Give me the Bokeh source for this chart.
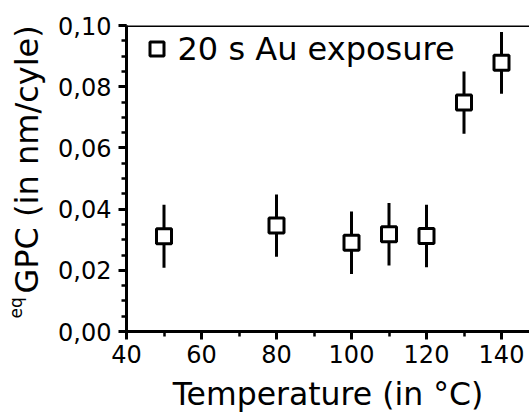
import numpy as np
from bokeh.plotting import figure
from bokeh.layouts import row
from bokeh.models import (ColumnDataSource, SingleIntervalTicker, CustomJSTickFormatter,
                          Span, Label, Legend, LegendItem, Range1d)
from bokeh.embed import file_html
from bokeh.resources import INLINE

# ---- data ----
temperature = [50, 80, 100, 110, 120, 130, 140]
gpc = [0.0311, 0.0346, 0.0290, 0.0318, 0.0312, 0.0748, 0.0878]
gpc_err = [0.0103, 0.0102, 0.0102, 0.0102, 0.0102, 0.0102, 0.0101]
series_label = "20 s Au exposure"
x_title = "Temperature (in °C)"
y_title_sup = "eq"
y_title_main = "GPC (in nm/cyle)"

FONT = "DejaVu Sans"

W, H = 529, 414
LW = 50                      # width of the strip that carries the y title
B_LEFT, B_TOP, B_BOTTOM, B_RIGHT = 126 - LW, 25, 82, 0
MW = W - LW
frame_w = MW - B_LEFT - B_RIGHT
x0 = 40
px_per_x = 3.75
x1 = x0 + frame_w / px_per_x
y0, y1 = 0.0, 0.10

lower = [v - e for v, e in zip(gpc, gpc_err)]
upper = [v + e for v, e in zip(gpc, gpc_err)]
src = ColumnDataSource(dict(x=temperature, y=gpc, lo=lower, hi=upper))

p = figure(width=MW, height=H, output_backend="svg", toolbar_location=None,
           x_range=Range1d(x0, x1), y_range=Range1d(y0, y1),
           min_border_left=B_LEFT, min_border_top=B_TOP,
           min_border_bottom=B_BOTTOM, min_border_right=B_RIGHT)
p.outline_line_color = None
p.grid.visible = False
p.background_fill_color = "white"
p.border_fill_color = "white"

# top frame line
p.add_layout(Span(location=y1, dimension="width", line_color="black", line_width=3))

seg = p.segment(x0="x", y0="lo", x1="x", y1="hi", source=src, line_color="black",
                line_width=3)
sc = p.scatter(x="x", y="y", source=src, marker="square", size=15, fill_color="white",
               line_color="black", line_width=3)

# axes
for ax in (p.xaxis[0], p.yaxis[0]):
    ax.axis_line_width = 3
    ax.axis_line_color = "black"
    ax.major_tick_line_width = 3
    ax.minor_tick_line_width = 2.5
    ax.major_tick_in = 0
    ax.major_tick_out = 8
    ax.minor_tick_in = 0
    ax.minor_tick_out = 5
    ax.major_label_text_font = FONT
    ax.major_label_text_font_size = "24px"
    ax.major_label_text_color = "black"
    ax.axis_label_text_font = FONT
    ax.axis_label_text_font_style = "normal"
    ax.axis_label_text_color = "black"

p.xaxis[0].ticker = SingleIntervalTicker(interval=20, num_minor_ticks=2)
p.xaxis[0].major_label_standoff = 5
p.xaxis[0].axis_label = x_title
p.xaxis[0].axis_label_text_font_size = "31.5px"
p.xaxis[0].axis_label_standoff = 10

p.yaxis[0].ticker = SingleIntervalTicker(interval=0.02, num_minor_ticks=4)
p.yaxis[0].formatter = CustomJSTickFormatter(code="return tick.toFixed(2).replace('.', ',');")
p.yaxis[0].major_label_standoff = 7

legend = Legend(items=[LegendItem(label=series_label, renderers=[sc])],
                location=(12.5, (H - B_TOP - B_BOTTOM) - 43.5), padding=0, margin=0,
                spacing=0, glyph_width=35, glyph_height=35, label_height=35,
                label_standoff=4, label_text_font=FONT, label_text_font_size="32px",
                label_text_color="black", border_line_color=None, background_fill_alpha=0)
p.add_layout(legend)

# strip on the left holding the rotated y title with its superscript
t = figure(width=LW, height=H, output_backend="svg", toolbar_location=None,
           x_axis_type=None, y_axis_type=None, min_border=0,
           x_range=Range1d(0, LW), y_range=Range1d(0, H))
t.outline_line_color = None
t.grid.visible = False
t.background_fill_color = "white"
t.border_fill_color = "white"
t.add_layout(Label(x=26, y=293, x_units="canvas", y_units="canvas", text=y_title_main,
                   angle=np.pi / 2, text_font=FONT, text_font_size="32px",
                   text_color="black", text_align="left", text_baseline="alphabetic"))
t.add_layout(Label(x=15.5, y=318, x_units="canvas", y_units="canvas", text=y_title_sup,
                   angle=np.pi / 2, text_font=FONT, text_font_size="17px",
                   text_color="black", text_align="left", text_baseline="alphabetic"))

layout = row(t, p, spacing=0)
open("out.html", "w").write(file_html(layout, INLINE))
